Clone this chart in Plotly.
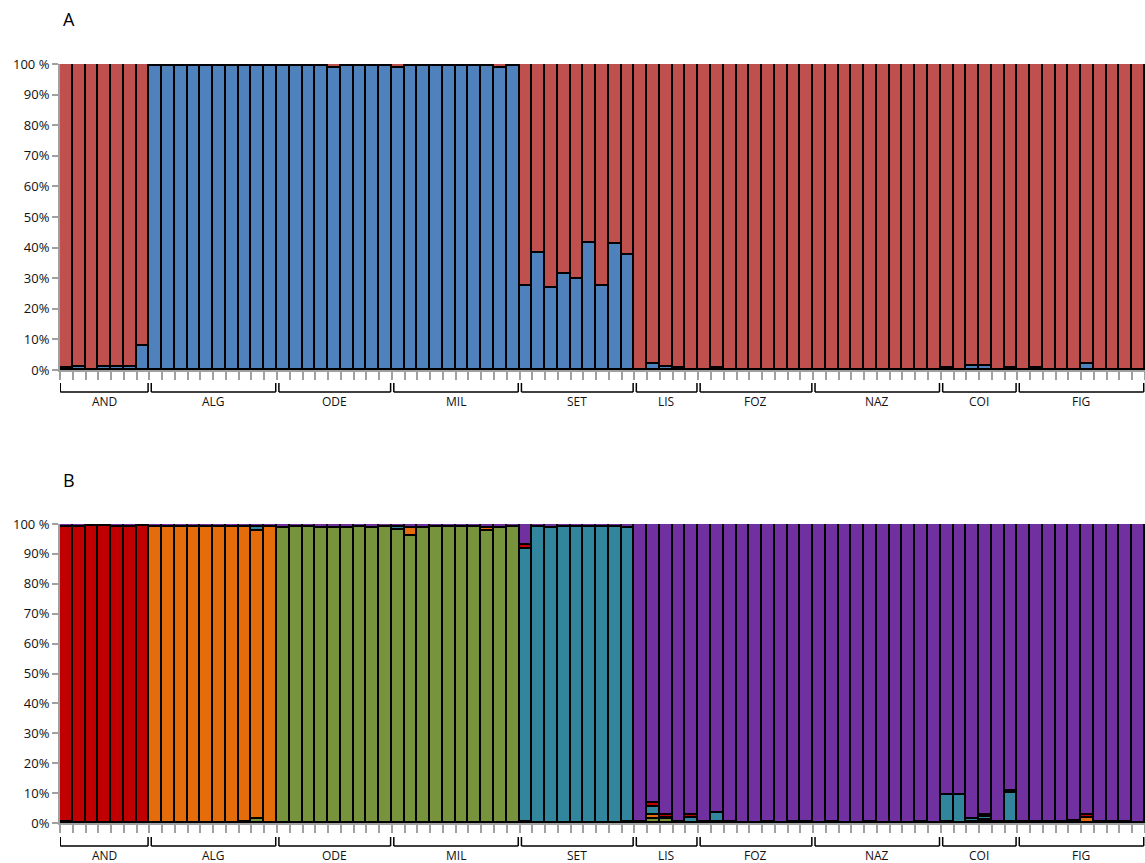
import plotly.graph_objects as go

# ---------------- data ----------------
populations = ["AND", "ALG", "ODE", "MIL", "SET", "LIS", "FOZ", "NAZ", "COI", "FIG"]
pop_sizes = [7, 10, 9, 10, 9, 5, 9, 10, 6, 10]
ytick_vals = [0, 10, 20, 30, 40, 50, 60, 70, 80, 90, 100]
ytick_text = ["0%", "10%", "20%", "30%", "40%", "50%", "60%", "70%", "80%", "90%", "100 %"]

# Panel A (K=2), membership in % per individual (bottom: blue, top: red)
k2_blue = [
    0.6, 1.1, 0, 1.0, 1.0, 1.0, 7.9,                                  # AND
    99.3, 99.3, 99.3, 99.3, 99.3, 99.3, 99.3, 99.3, 99.3, 99.3,       # ALG
    99.3, 99.3, 99.3, 99.3, 98.6, 99.3, 99.3, 99.3, 99.3,             # ODE
    98.7, 99.3, 99.3, 99.3, 99.3, 99.3, 99.3, 99.3, 98.7, 99.3,       # MIL
    27.6, 38.2, 26.9, 31.4, 29.7, 41.6, 27.6, 41.1, 37.6,             # SET
    0, 1.9, 1.1, 0.5, 0,                                              # LIS
    0, 0.5, 0, 0, 0, 0, 0, 0, 0,                                      # FOZ
    0, 0, 0, 0, 0, 0, 0, 0, 0, 0,                                     # NAZ
    0.5, 0, 1.2, 1.2, 0, 0.5,                                         # COI
    0, 0.5, 0, 0, 0, 1.9, 0, 0, 0, 0,                                 # FIG
]
k2_red = [
    99.4, 98.9, 100, 99.0, 99.0, 99.0, 92.1,
    0.7, 0.7, 0.7, 0.7, 0.7, 0.7, 0.7, 0.7, 0.7, 0.7,
    0.7, 0.7, 0.7, 0.7, 1.4, 0.7, 0.7, 0.7, 0.7,
    1.3, 0.7, 0.7, 0.7, 0.7, 0.7, 0.7, 0.7, 1.3, 0.7,
    72.4, 61.8, 73.1, 68.6, 70.3, 58.4, 72.4, 58.9, 62.4,
    100, 98.1, 98.9, 99.5, 100,
    100, 99.5, 100, 100, 100, 100, 100, 100, 100,
    100, 100, 100, 100, 100, 100, 100, 100, 100, 100,
    99.5, 100, 98.8, 98.8, 100, 99.5,
    100, 99.5, 100, 100, 100, 98.1, 100, 100, 100, 100,
]

# Panel B (K=5), stacked bottom -> top: green, orange, teal, red, purple
k5_green = [
    0.5, 0, 0, 0, 0, 0, 0,
    0, 0, 0, 0, 0, 0, 0, 0.5, 1.5, 0,
    98.5, 99, 99, 98.5, 98.5, 98.5, 99, 98.5, 99,
    98, 96, 98.5, 99, 99, 99, 99, 97.8, 98.5, 99,
    0.5, 0, 0, 0, 0, 0, 0, 0, 0.5,
    0.5, 1.2, 1.2, 0.5, 0,
    0.5, 0.3, 0.4, 0, 0, 0.4, 0, 0.4, 0.4,
    0, 0.4, 0, 0, 0.4, 0, 0, 0, 0.4, 0,
    0.3, 0, 0.4, 0.7, 0.4, 0.4,
    0.4, 0.4, 0.4, 0.4, 0.8, 0, 0.4, 0.4, 0.4, 0,
]
k5_orange = [
    0, 0, 0, 0, 0, 0, 0,
    99, 99, 99, 99, 99, 99, 99, 98.5, 96.2, 99,
    0, 0, 0, 0, 0, 0, 0, 0, 0,
    0, 2.5, 0, 0, 0, 0, 0, 0.9, 0, 0,
    0, 0, 0, 0, 0, 0, 0, 0, 0,
    0, 1.6, 0, 0, 0,
    0, 0, 0, 0, 0, 0, 0, 0, 0,
    0, 0, 0, 0, 0, 0, 0, 0, 0, 0,
    0, 0, 0, 0.4, 0, 0,
    0, 0, 0, 0, 0, 1.8, 0, 0, 0, 0,
]
k5_teal = [
    0, 0, 0, 0, 0, 0, 0,
    0, 0, 0, 0, 0, 0, 0, 0, 1.3, 0,
    0, 0, 0, 0, 0, 0, 0, 0, 0,
    1, 0, 0, 0, 0, 0, 0, 0, 0, 0,
    91, 99, 98.5, 99, 99, 99, 99, 99, 98,
    0, 2.6, 0.5, 0, 1.8,
    0, 3.0, 0, 0, 0, 0, 0, 0, 0,
    0, 0, 0, 0, 0, 0, 0, 0, 0, 0,
    9.0, 9.3, 0.8, 1.0, 0, 9.6,
    0, 0, 0, 0, 0, 0, 0, 0, 0, 0,
]
k5_red = [
    98.5, 99, 99.5, 99.5, 99, 99, 99.5,
    0, 0, 0, 0, 0, 0, 0, 0, 0, 0,
    0, 0, 0, 0, 0, 0, 0, 0, 0,
    0, 0, 0, 0, 0, 0, 0, 0, 0, 0,
    1.5, 0, 0, 0, 0, 0, 0, 0, 0,
    0, 1.2, 1.0, 0, 0.8,
    0, 0, 0, 0, 0, 0, 0, 0, 0,
    0, 0, 0, 0, 0, 0, 0, 0, 0, 0,
    0, 0, 0, 0.7, 0, 0.7,
    0, 0, 0, 0, 0, 0.9, 0, 0, 0, 0,
]
k5_purple = [
    1, 1, 0.5, 0.5, 1, 1, 0.5,
    1, 1, 1, 1, 1, 1, 1, 1, 1, 1,
    1.5, 1, 1, 1.5, 1.5, 1.5, 1, 1.5, 1,
    1, 1.5, 1.5, 1, 1, 1, 1, 1.3, 1.5, 1,
    7, 1, 1.5, 1, 1, 1, 1, 1, 1.5,
    99.5, 93.4, 97.3, 99.5, 97.4,
    99.5, 96.7, 99.6, 100, 100, 99.6, 100, 99.6, 99.6,
    100, 99.6, 100, 100, 99.6, 100, 100, 100, 99.6, 100,
    90.7, 90.7, 98.8, 97.2, 99.6, 89.3,
    99.6, 99.6, 99.6, 99.6, 99.2, 97.3, 99.6, 99.6, 99.6, 100,
]

# ---------------- figure ----------------
W, H = 1145, 863
def pyp(p):  # pixel row -> paper y
    return 1 - p / H
def pxp(p):  # pixel col -> paper x
    return p / W

n = sum(pop_sizes)
xs = [i + 0.5 for i in range(n)]
OUT = dict(color="black", width=1.8)

fig = go.Figure()
for vals, col in [(k2_blue, "#4F81BD"), (k2_red, "#C0504D")]:
    fig.add_trace(go.Bar(x=xs, y=vals, width=1, marker=dict(color=col, line=OUT),
                         xaxis="x", yaxis="y", showlegend=False, hoverinfo="skip"))
for vals, col in [(k5_green, "#77933C"), (k5_orange, "#E46C0A"), (k5_teal, "#31859C"),
                  (k5_red, "#C00000"), (k5_purple, "#7030A0")]:
    fig.add_trace(go.Bar(x=xs, y=vals, width=1, marker=dict(color=col, line=OUT),
                         xaxis="x2", yaxis="y2", showlegend=False, hoverinfo="skip"))

GRAY = "#A0A0A0"
xcommon = dict(domain=[pxp(60), 1.0], range=[0, n], tickvals=list(range(n + 1)),
               ticks="outside", ticklen=8, tickwidth=1.5, tickcolor=GRAY,
               showticklabels=False, showline=True, linecolor=GRAY, linewidth=2,
               showgrid=False, zeroline=False, fixedrange=True, automargin=False)
ycommon = dict(range=[0, 100], tickvals=ytick_vals, ticktext=ytick_text,
               ticks="outside", ticklen=6, tickwidth=1.5, tickcolor=GRAY,
               showline=True, linecolor=GRAY, linewidth=2, showgrid=False,
               zeroline=False, tickfont=dict(family="Open Sans", size=13, color="#111"),
               fixedrange=True, automargin=False)

panels = [
    # (xaxis, yaxis, top px, bottom px, label, label y px, bracket top px, bracket bottom px, text y px)
    ("x", "y", 64, 370, "A", 19, 383, 392, 401),
    ("x2", "y2", 524, 823, "B", 480, 837, 846, 855),
]

layout = dict(width=W, height=H, margin=dict(l=0, r=0, t=0, b=0, pad=0, autoexpand=False),
              paper_bgcolor="white", plot_bgcolor="white", template="none",
              barmode="stack", bargap=0, showlegend=False)
shapes, annotations = [], []
for xa, ya, top, bot, lab, laby, bt, bb, ty in panels:
    xkey = "xaxis" if xa == "x" else "xaxis2"
    ykey = "yaxis" if ya == "y" else "yaxis2"
    layout[xkey] = dict(xcommon, anchor=ya)
    layout[ykey] = dict(ycommon, domain=[pyp(bot), pyp(top)], anchor=xa)
    annotations.append(dict(text=lab, x=pxp(61), y=pyp(laby), xref="paper", yref="paper",
                            xanchor="left", yanchor="middle", showarrow=False,
                            font=dict(family="Open Sans", size=18, color="black")))
    start = 0
    for pop, size in zip(populations, pop_sizes):
        x0 = start + (0.02 if start == 0 else 0.15)
        x1 = start + size - 0.1
        for (ax0, ay0, ax1, ay1) in [(x0, bb, x1, bb), (x0, bt, x0, bb), (x1, bt, x1, bb)]:
            shapes.append(dict(type="line", xref=xa, yref="paper", x0=ax0, x1=ax1,
                               y0=pyp(ay0), y1=pyp(ay1), line=dict(color="black", width=1.5)))
        annotations.append(dict(text=pop, x=start + size / 2, y=pyp(ty), xref=xa, yref="paper",
                                xanchor="center", yanchor="middle", showarrow=False,
                                font=dict(family="Open Sans", size=12, color="#111")))
        start += size

layout["shapes"] = shapes
layout["annotations"] = annotations
fig.update_layout(**layout)

fig.write_html("out.html", config={"displayModeBar": False},
               post_script="document.body.style.margin='0';")
